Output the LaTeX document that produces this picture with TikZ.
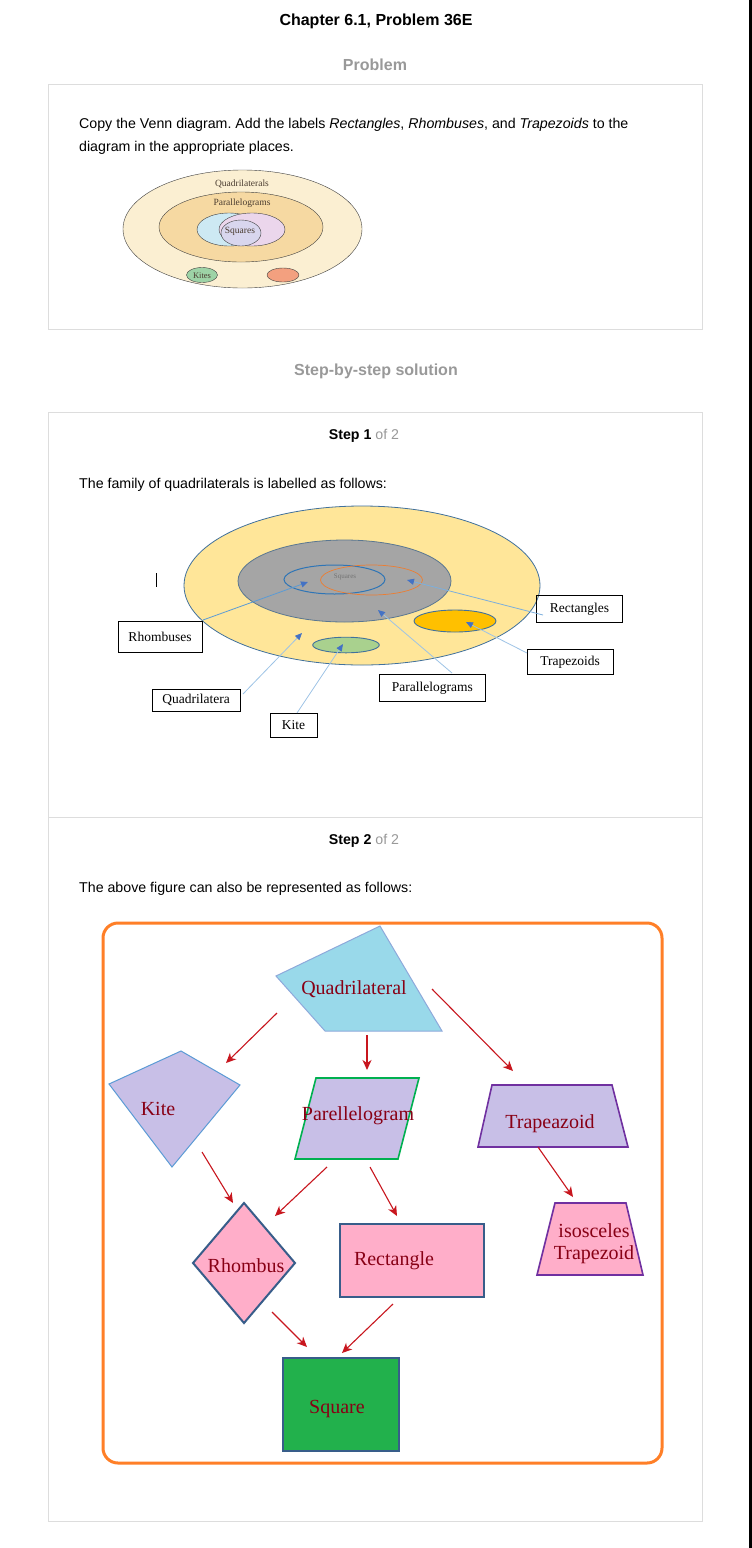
\documentclass[tikz,border=0pt]{standalone}
\usepackage{fontspec}
\setmainfont{Liberation Serif}
\newfontfamily\arial{Liberation Sans}
\usetikzlibrary{arrows.meta,shapes.geometric}
\frenchspacing
\definecolor{panelgray}{HTML}{DDDDDD}
\definecolor{subgray}{HTML}{999999}
\definecolor{vcream}{HTML}{FBEFD2}
\definecolor{vorange}{HTML}{F6D9A2}
\definecolor{vblue}{HTML}{CDE9F3}
\definecolor{vpink}{HTML}{EBD6EC}
\definecolor{vlav}{HTML}{D8D6EE}
\definecolor{vgreen}{HTML}{9DD3A6}
\definecolor{vred}{HTML}{F3A07F}
\definecolor{vtext}{HTML}{4A3C30}
\definecolor{syellow}{HTML}{FFE699}
\definecolor{sborder}{HTML}{41719C}
\definecolor{sgray}{HTML}{A5A5A5}
\definecolor{sblue}{HTML}{2E75B6}
\definecolor{sorange}{HTML}{ED7D31}
\definecolor{sgold}{HTML}{FFC000}
\definecolor{sgreen}{HTML}{A9D18E}
\definecolor{sline}{HTML}{9DC3E6}
\definecolor{stip}{HTML}{4472C4}
\definecolor{porange}{HTML}{FF7F27}
\definecolor{pturq}{HTML}{99D9EA}
\definecolor{pturqb}{HTML}{8EA9DB}
\definecolor{plav}{HTML}{C8BFE7}
\definecolor{ppink}{HTML}{FFAEC9}
\definecolor{pgreen}{HTML}{22B14C}
\definecolor{kiteb}{HTML}{5B9BD5}
\definecolor{parab}{HTML}{00B050}
\definecolor{purpb}{HTML}{7030A0}
\definecolor{navyb}{HTML}{385D8A}
\definecolor{darkred}{HTML}{880015}
\definecolor{arrred}{HTML}{C8161E}
\begin{document}
\begin{tikzpicture}[x=1pt,y=-1pt,
  hdr/.style={font=\arial\bfseries\fontsize{16}{18}\selectfont, inner sep=0},
  subhdr/.style={font=\arial\bfseries\fontsize{16}{18}\selectfont, text=subgray, inner sep=0},
  body/.style={font=\arial\fontsize{14.2}{17}\selectfont, inner sep=0, anchor=west},
  stephdr/.style={font=\arial\fontsize{14.2}{17}\selectfont, inner sep=0},
  panel/.style={draw=panelgray, line width=1},
  vell/.style={ellipse, draw=black!75, line width=0.4, inner sep=0},
  vtxt/.style={font=\fontsize{9.5}{11}\selectfont, text=vtext, inner sep=0},
  sell/.style={ellipse, inner sep=0},
  lbl/.style={draw=black, line width=0.9, font=\fontsize{13.5}{15}\selectfont, inner sep=0},
  s1arrow/.style={draw=sline, line width=0.8, -{Triangle[length=7pt,width=6pt,color=stip]}},
  shp/.style={line width=1.2},
  ptxt/.style={text=darkred, font=\fontsize{20}{22.5}\selectfont, inner sep=0},
  rarrow/.style={draw=arrred, line width=1.1, -{Stealth[length=10pt,width=9pt,inset=3pt]}}
]
\useasboundingbox (0,0) rectangle (752,1548);
\fill[white] (0,0) rectangle (752,1548);
\fill[black] (749,0) rectangle (752,1548);

% ---------- header ----------
\node[hdr] (title) at (376,21.5) {Chapter 6.1, Problem 36E};
\node[subhdr] (probhdr) at (375,64.5) {Problem};
\draw[panel] (48.5,84.5) rectangle (702.5,329.5);
\node[body] (q1) at (79,124.5) {Copy the Venn diagram. Add the labels \textit{Rectangles}, \textit{Rhombuses}, and \textit{Trapezoids} to the};
\node[body] (q2) at (79,147.5) {diagram in the appropriate places.};

% ---------- problem Venn ----------
\node[vell, fill=vcream, minimum width=239pt, minimum height=118pt] (vq) at (242.5,229) {};
\node[vell, fill=vorange, minimum width=164pt, minimum height=70pt] (vp) at (241,227) {};
\node[vell, fill=vblue, minimum width=64pt, minimum height=33pt] (vb) at (229,229.5) {};
\node[vell, fill=vpink, minimum width=66pt, minimum height=33pt] (vk) at (252,229.5) {};
\node[vell, fill=vlav, minimum width=40pt, minimum height=26pt] (vs) at (241,233) {};
\node[vell, fill=vgreen, minimum width=31pt, minimum height=15pt] (vkite) at (202,275) {};
\node[vell, fill=vred, minimum width=32pt, minimum height=14pt] (vtrap) at (283,275) {};
\node[vtxt] (tq) at (242,184) {Quadrilaterals};
\node[vtxt] (tp) at (242,203) {Parallelograms};
\node[vtxt] (ts) at (240,231) {Squares};
\node[vtxt, font=\fontsize{8.5}{10}\selectfont] (tk) at (202,275.5) {Kites};

% ---------- solution header ----------
\node[subhdr] (solhdr) at (376,371.5) {Step-by-step solution};
\draw[panel] (48.5,412.5) rectangle (702.5,1521.5);
\draw[panel] (48.5,817.5) -- (702.5,817.5);
\node[stephdr] (st1) at (364,435.5) {\textbf{Step 1} \textcolor{subgray}{of 2}};
\node[body] (s1t) at (79,484.5) {The family of quadrilaterals is labelled as follows:};

% ---------- step 1 diagram ----------
\node[sell, draw=sborder, line width=0.8, fill=syellow, minimum width=356pt, minimum height=159pt] (e1) at (362,585.5) {};
\node[sell, draw=sborder!60!gray, line width=0.8, fill=sgray, minimum width=213pt, minimum height=82pt] (e2) at (344.5,581) {};
\node[sell, draw=sblue, line width=1, minimum width=101pt, minimum height=29pt] (e3) at (334.5,579.5) {};
\node[sell, draw=sorange, line width=0.7, minimum width=102pt, minimum height=30pt] (e4) at (371.5,580) {};
\node[inner sep=0, text=black!55, font=\fontsize{7}{8}\selectfont] (sq) at (345,577) {Squares};
\node[sell, draw=sborder, line width=0.9, fill=sgold, minimum width=82pt, minimum height=22pt] (e5) at (455,621) {};
\node[sell, draw=sborder, line width=0.9, fill=sgreen, minimum width=66.6pt, minimum height=15.6pt] (e6) at (346,645) {};
\draw[black, line width=1] (156,573) -- (156,587);

\node[lbl, minimum width=84pt, minimum height=31pt] (lrh) at (160,636.5) {Rhombuses};
\node[lbl, minimum width=88pt, minimum height=22pt] (lqu) at (196,700) {Quadrilatera};
\node[lbl, minimum width=47pt, minimum height=24pt] (lki) at (293.5,725) {Kite};
\node[lbl, minimum width=106.7pt, minimum height=27.7pt] (lpa) at (432.3,688) {Parallelograms};
\node[lbl, minimum width=85.6pt, minimum height=26.6pt] (lre) at (579.5,609) {Rectangles};
\node[lbl, minimum width=86pt, minimum height=24.3pt] (ltr) at (570,662) {Trapezoids};

\coordinate (rhS) at (203,620);   \coordinate (rhT) at (308,582);
\coordinate (quS) at (243,694);   \coordinate (quT) at (302,633);
\coordinate (kiS) at (297,713);   \coordinate (kiT) at (343,644);
\coordinate (paS) at (452,673);   \coordinate (paT) at (378,610);
\coordinate (reS) at (543,615);   \coordinate (reT) at (407,580);
\coordinate (trS) at (527,653);   \coordinate (trT) at (466,622);
\draw[s1arrow, draw=kiteb] (rhS) -- (rhT);
\draw[s1arrow] (quS) -- (quT);
\draw[s1arrow] (kiS) -- (kiT);
\draw[s1arrow] (paS) -- (paT);
\draw[s1arrow, draw=kiteb!80] (reS) -- (reT);
\draw[s1arrow] (trS) -- (trT);

% ---------- step 2 ----------
\node[stephdr] (st2) at (364,840.5) {\textbf{Step 2} \textcolor{subgray}{of 2}};
\node[body] (s2t) at (79,888.5) {The above figure can also be represented as follows:};

\draw[porange, line width=3, rounded corners=15] (103,923) rectangle (662,1463);

% shapes
\draw[shp, fill=pturq, draw=pturqb, line width=1] (380,926) -- (442,1031) -- (325,1031) -- (276,976) -- cycle;
\node[ptxt] (quad) at (354,989.5) {Quadrilateral};

\draw[shp, fill=plav, draw=kiteb, line width=1] (181,1051) -- (240,1085) -- (172,1167) -- (109,1084) -- cycle;
\node[ptxt] (kite) at (158,1108.5) {Kite};

\draw[shp, fill=plav, draw=parab, line width=1.6] (316,1078) -- (419,1078) -- (398,1159) -- (295,1159) -- cycle;
\node[ptxt] (para) at (358,1115.5) {Parellelogram};

\draw[shp, fill=plav, draw=purpb, line width=1.6] (492,1085) -- (612,1085) -- (628,1147) -- (478,1147) -- cycle;
\node[ptxt] (trap) at (550,1123.5) {Trapeazoid};

\draw[shp, fill=ppink, draw=navyb, line width=2] (244,1203) -- (295,1263) -- (244,1323) -- (193,1263) -- cycle;
\node[ptxt] (rhom) at (246,1265.5) {Rhombus};

\draw[shp, fill=ppink, draw=navyb, line width=2] (340,1224) rectangle (484,1297);
\node[ptxt] (rect) at (394,1260.5) {Rectangle};

\draw[shp, fill=ppink, draw=purpb, line width=1.6] (555,1203) -- (626,1203) -- (643,1275) -- (537,1275) -- cycle;
\node[ptxt, align=center] (iso) at (594,1243.5) {isosceles\\Trapezoid};

\draw[shp, fill=pgreen, draw=navyb, line width=2] (283,1358) rectangle (399,1451);
\node[ptxt] (sqr) at (337,1408.5) {Square};

% arrows
\coordinate (a1s) at (277,1013);  \coordinate (a1e) at (226,1063);
\coordinate (a2s) at (367,1035);  \coordinate (a2e) at (367,1070);
\coordinate (a3s) at (432,989);   \coordinate (a3e) at (513,1071);
\coordinate (a4s) at (202,1152);  \coordinate (a4e) at (233,1203);
\coordinate (a5s) at (327,1167);  \coordinate (a5e) at (275,1216);
\coordinate (a6s) at (370,1167);  \coordinate (a6e) at (397,1216);
\coordinate (a7s) at (538,1147);  \coordinate (a7e) at (573,1197);
\coordinate (a8s) at (272,1312);  \coordinate (a8e) at (307,1347);
\coordinate (a9s) at (393,1304);  \coordinate (a9e) at (342,1353);
\draw[rarrow] (a1s) -- (a1e);
\draw[rarrow] (a2s) -- (a2e);
\draw[rarrow] (a3s) -- (a3e);
\draw[rarrow] (a4s) -- (a4e);
\draw[rarrow] (a5s) -- (a5e);
\draw[rarrow] (a6s) -- (a6e);
\draw[rarrow] (a7s) -- (a7e);
\draw[rarrow] (a8s) -- (a8e);
\draw[rarrow] (a9s) -- (a9e);
\end{tikzpicture}
\end{document}
